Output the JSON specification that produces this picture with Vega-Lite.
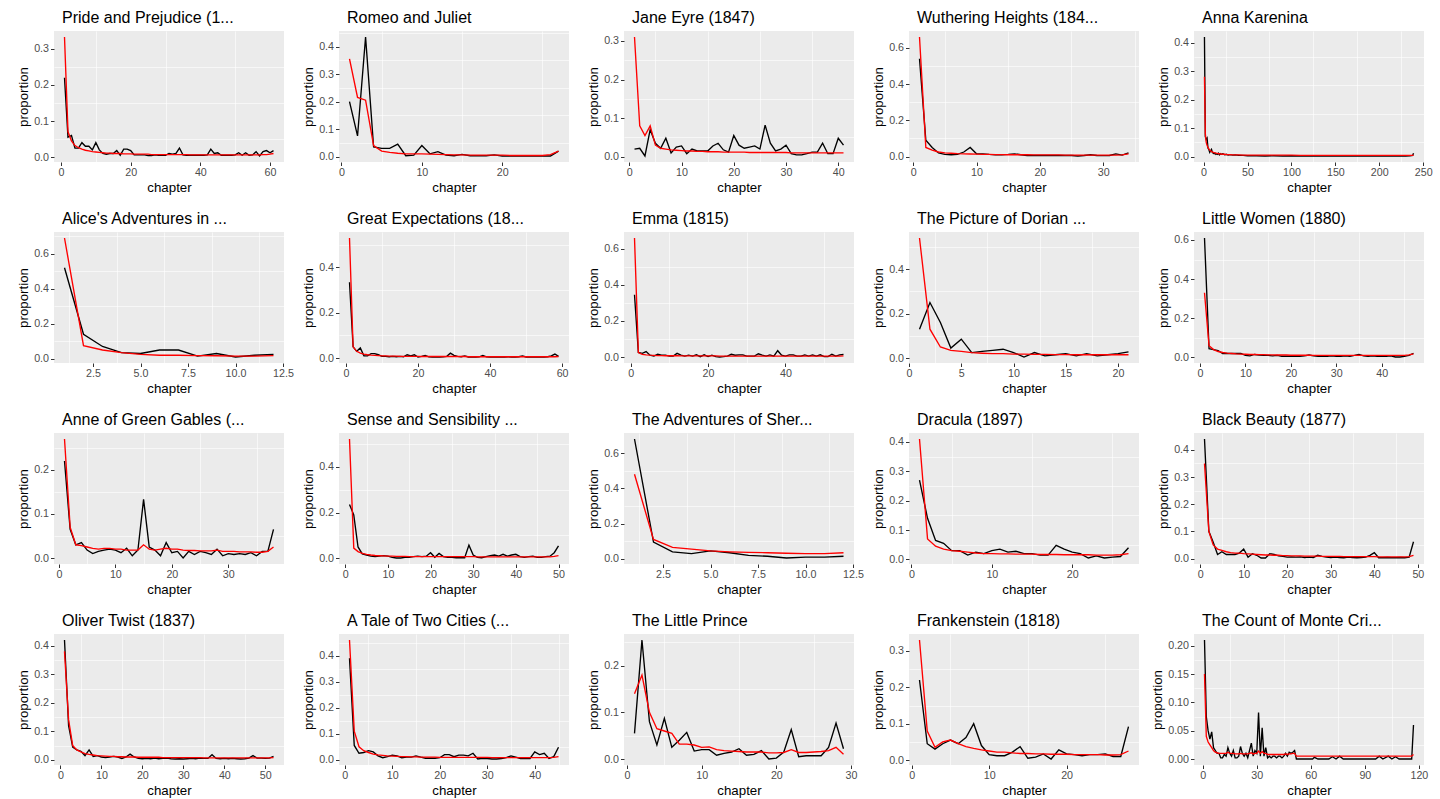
{
"$schema": "https://vega.github.io/schema/vega-lite/v6.json",
"padding": {"left": 16, "top": 10, "right": 2, "bottom": 3},
"data": {"values": [
{"b":1,"c":1,"o":0.22,"f":0.333},{"b":1,"c":2,"o":0.055,"f":0.07},{"b":1,"c":3,"o":0.06,"f":0.045},{"b":1,"c":4,"o":0.025,"f":0.032},{"b":1,"c":5,"o":0.025,"f":0.026},{"b":1,"c":6,"o":0.04,"f":0.022},{"b":1,"c":7,"o":0.03,"f":0.019},{"b":1,"c":8,"o":0.03,"f":0.017},{"b":1,"c":9,"o":0.02,"f":0.015},{"b":1,"c":10,"o":0.04,"f":0.014},{"b":1,"c":11,"o":0.02,"f":0.013},{"b":1,"c":12,"o":0.01,"f":0.012},{"b":1,"c":13,"o":0.008,"f":0.011},{"b":1,"c":14,"o":0.01,"f":0.011},{"b":1,"c":15,"o":0.01,"f":0.01},{"b":1,"c":16,"o":0.018,"f":0.01},{"b":1,"c":17,"o":0.005,"f":0.01},{"b":1,"c":18,"o":0.022,"f":0.009},{"b":1,"c":19,"o":0.022,"f":0.009},{"b":1,"c":20,"o":0.018,"f":0.009},{"b":1,"c":21,"o":0.006,"f":0.008},{"b":1,"c":22,"o":0.006,"f":0.008},{"b":1,"c":23,"o":0.006,"f":0.008},{"b":1,"c":24,"o":0.006,"f":0.008},{"b":1,"c":25,"o":0.004,"f":0.008},{"b":1,"c":26,"o":0.004,"f":0.007},{"b":1,"c":27,"o":0.006,"f":0.007},{"b":1,"c":28,"o":0.005,"f":0.007},{"b":1,"c":29,"o":0.005,"f":0.007},{"b":1,"c":30,"o":0.005,"f":0.007},{"b":1,"c":31,"o":0.01,"f":0.007},{"b":1,"c":32,"o":0.008,"f":0.007},{"b":1,"c":33,"o":0.01,"f":0.007},{"b":1,"c":34,"o":0.025,"f":0.007},{"b":1,"c":35,"o":0.006,"f":0.007},{"b":1,"c":36,"o":0.005,"f":0.007},{"b":1,"c":37,"o":0.005,"f":0.006},{"b":1,"c":38,"o":0.005,"f":0.006},{"b":1,"c":39,"o":0.005,"f":0.006},{"b":1,"c":40,"o":0.005,"f":0.006},{"b":1,"c":41,"o":0.005,"f":0.006},{"b":1,"c":42,"o":0.006,"f":0.006},{"b":1,"c":43,"o":0.022,"f":0.006},{"b":1,"c":44,"o":0.01,"f":0.006},{"b":1,"c":45,"o":0.012,"f":0.006},{"b":1,"c":46,"o":0.005,"f":0.006},{"b":1,"c":47,"o":0.005,"f":0.006},{"b":1,"c":48,"o":0.005,"f":0.006},{"b":1,"c":49,"o":0.005,"f":0.006},{"b":1,"c":50,"o":0.006,"f":0.006},{"b":1,"c":51,"o":0.012,"f":0.006},{"b":1,"c":52,"o":0.005,"f":0.006},{"b":1,"c":53,"o":0.012,"f":0.006},{"b":1,"c":54,"o":0.005,"f":0.006},{"b":1,"c":55,"o":0.006,"f":0.006},{"b":1,"c":56,"o":0.015,"f":0.006},{"b":1,"c":57,"o":0.003,"f":0.006},{"b":1,"c":58,"o":0.015,"f":0.007},{"b":1,"c":59,"o":0.018,"f":0.007},{"b":1,"c":60,"o":0.012,"f":0.008},{"b":1,"c":61,"o":0.018,"f":0.01},
{"b":2,"c":1,"o":0.2,"f":0.355},{"b":2,"c":2,"o":0.075,"f":0.215},{"b":2,"c":3,"o":0.435,"f":0.205},{"b":2,"c":4,"o":0.035,"f":0.04},{"b":2,"c":5,"o":0.03,"f":0.02},{"b":2,"c":6,"o":0.03,"f":0.015},{"b":2,"c":7,"o":0.045,"f":0.012},{"b":2,"c":8,"o":0.003,"f":0.01},{"b":2,"c":9,"o":0.005,"f":0.01},{"b":2,"c":10,"o":0.04,"f":0.01},{"b":2,"c":11,"o":0.01,"f":0.009},{"b":2,"c":12,"o":0.018,"f":0.008},{"b":2,"c":13,"o":0.005,"f":0.007},{"b":2,"c":14,"o":0.003,"f":0.006},{"b":2,"c":15,"o":0.008,"f":0.006},{"b":2,"c":16,"o":0.003,"f":0.005},{"b":2,"c":17,"o":0.003,"f":0.005},{"b":2,"c":18,"o":0.003,"f":0.005},{"b":2,"c":19,"o":0.006,"f":0.005},{"b":2,"c":20,"o":0.002,"f":0.005},{"b":2,"c":21,"o":0.002,"f":0.004},{"b":2,"c":22,"o":0.002,"f":0.004},{"b":2,"c":23,"o":0.002,"f":0.004},{"b":2,"c":24,"o":0.002,"f":0.004},{"b":2,"c":25,"o":0.002,"f":0.004},{"b":2,"c":26,"o":0.002,"f":0.007},{"b":2,"c":27,"o":0.02,"f":0.02},
{"b":3,"c":1,"o":0.02,"f":0.31},{"b":3,"c":2,"o":0.022,"f":0.08},{"b":3,"c":3,"o":0.002,"f":0.055},{"b":3,"c":4,"o":0.07,"f":0.08},{"b":3,"c":5,"o":0.035,"f":0.03},{"b":3,"c":6,"o":0.022,"f":0.022},{"b":3,"c":7,"o":0.048,"f":0.02},{"b":3,"c":8,"o":0.01,"f":0.018},{"b":3,"c":9,"o":0.025,"f":0.017},{"b":3,"c":10,"o":0.028,"f":0.016},{"b":3,"c":11,"o":0.008,"f":0.015},{"b":3,"c":12,"o":0.02,"f":0.015},{"b":3,"c":13,"o":0.015,"f":0.014},{"b":3,"c":14,"o":0.015,"f":0.014},{"b":3,"c":15,"o":0.015,"f":0.013},{"b":3,"c":16,"o":0.028,"f":0.013},{"b":3,"c":17,"o":0.035,"f":0.013},{"b":3,"c":18,"o":0.018,"f":0.012},{"b":3,"c":19,"o":0.012,"f":0.012},{"b":3,"c":20,"o":0.055,"f":0.012},{"b":3,"c":21,"o":0.03,"f":0.012},{"b":3,"c":22,"o":0.022,"f":0.012},{"b":3,"c":23,"o":0.025,"f":0.011},{"b":3,"c":24,"o":0.028,"f":0.011},{"b":3,"c":25,"o":0.02,"f":0.011},{"b":3,"c":26,"o":0.082,"f":0.011},{"b":3,"c":27,"o":0.035,"f":0.011},{"b":3,"c":28,"o":0.015,"f":0.011},{"b":3,"c":29,"o":0.02,"f":0.011},{"b":3,"c":30,"o":0.03,"f":0.011},{"b":3,"c":31,"o":0.008,"f":0.01},{"b":3,"c":32,"o":0.005,"f":0.01},{"b":3,"c":33,"o":0.005,"f":0.01},{"b":3,"c":34,"o":0.008,"f":0.01},{"b":3,"c":35,"o":0.012,"f":0.01},{"b":3,"c":36,"o":0.012,"f":0.01},{"b":3,"c":37,"o":0.035,"f":0.01},{"b":3,"c":38,"o":0.008,"f":0.01},{"b":3,"c":39,"o":0.008,"f":0.01},{"b":3,"c":40,"o":0.048,"f":0.01},{"b":3,"c":41,"o":0.03,"f":0.01},
{"b":4,"c":1,"o":0.54,"f":0.66},{"b":4,"c":2,"o":0.09,"f":0.05},{"b":4,"c":3,"o":0.05,"f":0.035},{"b":4,"c":4,"o":0.02,"f":0.025},{"b":4,"c":5,"o":0.012,"f":0.02},{"b":4,"c":6,"o":0.01,"f":0.018},{"b":4,"c":7,"o":0.012,"f":0.016},{"b":4,"c":8,"o":0.025,"f":0.015},{"b":4,"c":9,"o":0.05,"f":0.014},{"b":4,"c":10,"o":0.015,"f":0.013},{"b":4,"c":11,"o":0.015,"f":0.012},{"b":4,"c":12,"o":0.012,"f":0.012},{"b":4,"c":13,"o":0.01,"f":0.011},{"b":4,"c":14,"o":0.01,"f":0.011},{"b":4,"c":15,"o":0.012,"f":0.01},{"b":4,"c":16,"o":0.015,"f":0.01},{"b":4,"c":17,"o":0.01,"f":0.01},{"b":4,"c":18,"o":0.006,"f":0.01},{"b":4,"c":19,"o":0.006,"f":0.009},{"b":4,"c":20,"o":0.006,"f":0.009},{"b":4,"c":21,"o":0.006,"f":0.009},{"b":4,"c":22,"o":0.006,"f":0.009},{"b":4,"c":23,"o":0.006,"f":0.009},{"b":4,"c":24,"o":0.006,"f":0.008},{"b":4,"c":25,"o":0.006,"f":0.008},{"b":4,"c":26,"o":0.003,"f":0.008},{"b":4,"c":27,"o":0.006,"f":0.008},{"b":4,"c":28,"o":0.01,"f":0.008},{"b":4,"c":29,"o":0.006,"f":0.008},{"b":4,"c":30,"o":0.005,"f":0.008},{"b":4,"c":31,"o":0.006,"f":0.008},{"b":4,"c":32,"o":0.015,"f":0.008},{"b":4,"c":33,"o":0.008,"f":0.009},{"b":4,"c":34,"o":0.02,"f":0.015},
{"b":5,"c":1,"o":0.42,"f":0.28},{"b":5,"c":2,"o":0.07,"f":0.08},{"b":5,"c":3,"o":0.06,"f":0.05},{"b":5,"c":4,"o":0.065,"f":0.04},{"b":5,"c":5,"o":0.03,"f":0.032},{"b":5,"c":6,"o":0.025,"f":0.027},{"b":5,"c":7,"o":0.015,"f":0.023},{"b":5,"c":8,"o":0.02,"f":0.02},{"b":5,"c":9,"o":0.025,"f":0.018},{"b":5,"c":10,"o":0.015,"f":0.016},{"b":5,"c":11,"o":0.012,"f":0.015},{"b":5,"c":12,"o":0.01,"f":0.014},{"b":5,"c":13,"o":0.012,"f":0.013},{"b":5,"c":14,"o":0.008,"f":0.012},{"b":5,"c":15,"o":0.01,"f":0.011},{"b":5,"c":16,"o":0.008,"f":0.011},{"b":5,"c":17,"o":0.012,"f":0.01},{"b":5,"c":18,"o":0.006,"f":0.01},{"b":5,"c":19,"o":0.01,"f":0.009},{"b":5,"c":20,"o":0.008,"f":0.009},{"b":5,"c":22,"o":0.01,"f":0.008},{"b":5,"c":24,"o":0.006,"f":0.008},{"b":5,"c":26,"o":0.008,"f":0.007},{"b":5,"c":28,"o":0.005,"f":0.007},{"b":5,"c":30,"o":0.007,"f":0.007},{"b":5,"c":33,"o":0.005,"f":0.006},{"b":5,"c":36,"o":0.006,"f":0.006},{"b":5,"c":40,"o":0.004,"f":0.006},{"b":5,"c":45,"o":0.004,"f":0.005},{"b":5,"c":50,"o":0.003,"f":0.005},{"b":5,"c":60,"o":0.003,"f":0.005},{"b":5,"c":70,"o":0.002,"f":0.005},{"b":5,"c":80,"o":0.003,"f":0.005},{"b":5,"c":90,"o":0.002,"f":0.005},{"b":5,"c":100,"o":0.003,"f":0.005},{"b":5,"c":110,"o":0.002,"f":0.004},{"b":5,"c":120,"o":0.003,"f":0.004},{"b":5,"c":130,"o":0.002,"f":0.004},{"b":5,"c":140,"o":0.003,"f":0.004},{"b":5,"c":150,"o":0.002,"f":0.004},{"b":5,"c":160,"o":0.003,"f":0.004},{"b":5,"c":170,"o":0.002,"f":0.004},{"b":5,"c":180,"o":0.003,"f":0.004},{"b":5,"c":190,"o":0.002,"f":0.004},{"b":5,"c":200,"o":0.003,"f":0.004},{"b":5,"c":210,"o":0.002,"f":0.004},{"b":5,"c":220,"o":0.003,"f":0.004},{"b":5,"c":230,"o":0.002,"f":0.004},{"b":5,"c":235,"o":0.003,"f":0.004},{"b":5,"c":238,"o":0.004,"f":0.004},{"b":5,"c":239,"o":0.012,"f":0.006},
{"b":6,"c":1,"o":0.52,"f":0.69},{"b":6,"c":2,"o":0.14,"f":0.075},{"b":6,"c":3,"o":0.07,"f":0.05},{"b":6,"c":4,"o":0.035,"f":0.035},{"b":6,"c":5,"o":0.03,"f":0.025},{"b":6,"c":6,"o":0.05,"f":0.02},{"b":6,"c":7,"o":0.05,"f":0.02},{"b":6,"c":8,"o":0.015,"f":0.018},{"b":6,"c":9,"o":0.03,"f":0.017},{"b":6,"c":10,"o":0.01,"f":0.015},{"b":6,"c":11,"o":0.02,"f":0.015},{"b":6,"c":12,"o":0.025,"f":0.018},
{"b":7,"c":1,"o":0.335,"f":0.53},{"b":7,"c":2,"o":0.05,"f":0.05},{"b":7,"c":3,"o":0.03,"f":0.03},{"b":7,"c":4,"o":0.045,"f":0.022},{"b":7,"c":5,"o":0.01,"f":0.018},{"b":7,"c":6,"o":0.01,"f":0.015},{"b":7,"c":7,"o":0.02,"f":0.013},{"b":7,"c":8,"o":0.02,"f":0.012},{"b":7,"c":9,"o":0.015,"f":0.011},{"b":7,"c":10,"o":0.008,"f":0.01},{"b":7,"c":11,"o":0.008,"f":0.01},{"b":7,"c":12,"o":0.006,"f":0.009},{"b":7,"c":13,"o":0.008,"f":0.009},{"b":7,"c":14,"o":0.006,"f":0.009},{"b":7,"c":15,"o":0.008,"f":0.008},{"b":7,"c":16,"o":0.006,"f":0.008},{"b":7,"c":17,"o":0.015,"f":0.008},{"b":7,"c":18,"o":0.01,"f":0.008},{"b":7,"c":19,"o":0.015,"f":0.008},{"b":7,"c":20,"o":0.005,"f":0.008},{"b":7,"c":21,"o":0.008,"f":0.007},{"b":7,"c":22,"o":0.012,"f":0.007},{"b":7,"c":23,"o":0.006,"f":0.007},{"b":7,"c":24,"o":0.005,"f":0.007},{"b":7,"c":25,"o":0.006,"f":0.007},{"b":7,"c":26,"o":0.005,"f":0.007},{"b":7,"c":27,"o":0.006,"f":0.007},{"b":7,"c":28,"o":0.008,"f":0.007},{"b":7,"c":29,"o":0.022,"f":0.007},{"b":7,"c":30,"o":0.012,"f":0.007},{"b":7,"c":31,"o":0.008,"f":0.007},{"b":7,"c":32,"o":0.006,"f":0.007},{"b":7,"c":33,"o":0.01,"f":0.007},{"b":7,"c":34,"o":0.005,"f":0.006},{"b":7,"c":35,"o":0.005,"f":0.006},{"b":7,"c":36,"o":0.005,"f":0.006},{"b":7,"c":37,"o":0.006,"f":0.006},{"b":7,"c":38,"o":0.012,"f":0.006},{"b":7,"c":39,"o":0.006,"f":0.006},{"b":7,"c":40,"o":0.005,"f":0.006},{"b":7,"c":41,"o":0.005,"f":0.006},{"b":7,"c":42,"o":0.006,"f":0.006},{"b":7,"c":43,"o":0.005,"f":0.006},{"b":7,"c":44,"o":0.005,"f":0.006},{"b":7,"c":45,"o":0.006,"f":0.006},{"b":7,"c":46,"o":0.005,"f":0.006},{"b":7,"c":47,"o":0.005,"f":0.006},{"b":7,"c":48,"o":0.006,"f":0.006},{"b":7,"c":49,"o":0.01,"f":0.006},{"b":7,"c":50,"o":0.005,"f":0.006},{"b":7,"c":51,"o":0.006,"f":0.006},{"b":7,"c":52,"o":0.005,"f":0.006},{"b":7,"c":53,"o":0.005,"f":0.006},{"b":7,"c":54,"o":0.006,"f":0.006},{"b":7,"c":55,"o":0.005,"f":0.006},{"b":7,"c":56,"o":0.006,"f":0.006},{"b":7,"c":57,"o":0.01,"f":0.006},{"b":7,"c":58,"o":0.018,"f":0.006},{"b":7,"c":59,"o":0.008,"f":0.007},
{"b":8,"c":1,"o":0.345,"f":0.66},{"b":8,"c":2,"o":0.025,"f":0.025},{"b":8,"c":3,"o":0.02,"f":0.015},{"b":8,"c":4,"o":0.03,"f":0.012},{"b":8,"c":5,"o":0.01,"f":0.01},{"b":8,"c":6,"o":0.005,"f":0.009},{"b":8,"c":7,"o":0.015,"f":0.008},{"b":8,"c":8,"o":0.01,"f":0.008},{"b":8,"c":9,"o":0.01,"f":0.007},{"b":8,"c":10,"o":0.005,"f":0.007},{"b":8,"c":11,"o":0.005,"f":0.007},{"b":8,"c":12,"o":0.02,"f":0.007},{"b":8,"c":13,"o":0.01,"f":0.006},{"b":8,"c":14,"o":0.005,"f":0.006},{"b":8,"c":15,"o":0.01,"f":0.006},{"b":8,"c":16,"o":0.005,"f":0.006},{"b":8,"c":17,"o":0.012,"f":0.006},{"b":8,"c":18,"o":0.002,"f":0.006},{"b":8,"c":19,"o":0.012,"f":0.006},{"b":8,"c":20,"o":0.002,"f":0.006},{"b":8,"c":21,"o":0.01,"f":0.006},{"b":8,"c":22,"o":0.002,"f":0.006},{"b":8,"c":23,"o":0.0,"f":0.005},{"b":8,"c":24,"o":0.002,"f":0.005},{"b":8,"c":25,"o":0.005,"f":0.005},{"b":8,"c":26,"o":0.015,"f":0.005},{"b":8,"c":27,"o":0.01,"f":0.005},{"b":8,"c":28,"o":0.012,"f":0.005},{"b":8,"c":29,"o":0.012,"f":0.005},{"b":8,"c":30,"o":0.005,"f":0.005},{"b":8,"c":31,"o":0.005,"f":0.005},{"b":8,"c":32,"o":0.005,"f":0.005},{"b":8,"c":33,"o":0.018,"f":0.005},{"b":8,"c":34,"o":0.01,"f":0.005},{"b":8,"c":35,"o":0.005,"f":0.005},{"b":8,"c":36,"o":0.012,"f":0.005},{"b":8,"c":37,"o":0.005,"f":0.005},{"b":8,"c":38,"o":0.035,"f":0.005},{"b":8,"c":39,"o":0.01,"f":0.005},{"b":8,"c":40,"o":0.005,"f":0.005},{"b":8,"c":41,"o":0.012,"f":0.005},{"b":8,"c":42,"o":0.012,"f":0.005},{"b":8,"c":43,"o":0.005,"f":0.005},{"b":8,"c":44,"o":0.005,"f":0.005},{"b":8,"c":45,"o":0.012,"f":0.005},{"b":8,"c":46,"o":0.005,"f":0.005},{"b":8,"c":47,"o":0.012,"f":0.005},{"b":8,"c":48,"o":0.005,"f":0.005},{"b":8,"c":49,"o":0.012,"f":0.005},{"b":8,"c":50,"o":0.002,"f":0.005},{"b":8,"c":51,"o":0.002,"f":0.005},{"b":8,"c":52,"o":0.015,"f":0.005},{"b":8,"c":53,"o":0.005,"f":0.005},{"b":8,"c":54,"o":0.012,"f":0.005},{"b":8,"c":55,"o":0.015,"f":0.006},
{"b":9,"c":1,"o":0.13,"f":0.54},{"b":9,"c":2,"o":0.25,"f":0.13},{"b":9,"c":3,"o":0.16,"f":0.05},{"b":9,"c":4,"o":0.045,"f":0.035},{"b":9,"c":5,"o":0.085,"f":0.03},{"b":9,"c":6,"o":0.025,"f":0.025},{"b":9,"c":7,"o":0.03,"f":0.022},{"b":9,"c":8,"o":0.035,"f":0.02},{"b":9,"c":9,"o":0.04,"f":0.02},{"b":9,"c":10,"o":0.025,"f":0.018},{"b":9,"c":11,"o":0.005,"f":0.018},{"b":9,"c":12,"o":0.025,"f":0.017},{"b":9,"c":13,"o":0.01,"f":0.017},{"b":9,"c":14,"o":0.015,"f":0.016},{"b":9,"c":15,"o":0.02,"f":0.016},{"b":9,"c":16,"o":0.01,"f":0.015},{"b":9,"c":17,"o":0.02,"f":0.015},{"b":9,"c":18,"o":0.01,"f":0.015},{"b":9,"c":19,"o":0.015,"f":0.015},{"b":9,"c":20,"o":0.02,"f":0.015},{"b":9,"c":21,"o":0.028,"f":0.015},
{"b":10,"c":1,"o":0.61,"f":0.33},{"b":10,"c":2,"o":0.045,"f":0.06},{"b":10,"c":3,"o":0.04,"f":0.04},{"b":10,"c":4,"o":0.035,"f":0.03},{"b":10,"c":5,"o":0.02,"f":0.025},{"b":10,"c":6,"o":0.02,"f":0.022},{"b":10,"c":7,"o":0.02,"f":0.02},{"b":10,"c":8,"o":0.02,"f":0.018},{"b":10,"c":9,"o":0.02,"f":0.017},{"b":10,"c":10,"o":0.01,"f":0.016},{"b":10,"c":11,"o":0.008,"f":0.015},{"b":10,"c":12,"o":0.015,"f":0.015},{"b":10,"c":13,"o":0.012,"f":0.014},{"b":10,"c":14,"o":0.01,"f":0.014},{"b":10,"c":15,"o":0.01,"f":0.013},{"b":10,"c":16,"o":0.008,"f":0.013},{"b":10,"c":17,"o":0.01,"f":0.012},{"b":10,"c":18,"o":0.006,"f":0.012},{"b":10,"c":19,"o":0.006,"f":0.012},{"b":10,"c":20,"o":0.005,"f":0.011},{"b":10,"c":21,"o":0.006,"f":0.011},{"b":10,"c":22,"o":0.005,"f":0.011},{"b":10,"c":23,"o":0.008,"f":0.011},{"b":10,"c":24,"o":0.012,"f":0.011},{"b":10,"c":25,"o":0.008,"f":0.01},{"b":10,"c":26,"o":0.006,"f":0.01},{"b":10,"c":27,"o":0.005,"f":0.01},{"b":10,"c":28,"o":0.006,"f":0.01},{"b":10,"c":29,"o":0.008,"f":0.01},{"b":10,"c":30,"o":0.005,"f":0.01},{"b":10,"c":31,"o":0.006,"f":0.01},{"b":10,"c":32,"o":0.008,"f":0.01},{"b":10,"c":33,"o":0.006,"f":0.01},{"b":10,"c":34,"o":0.01,"f":0.01},{"b":10,"c":35,"o":0.015,"f":0.01},{"b":10,"c":36,"o":0.008,"f":0.01},{"b":10,"c":37,"o":0.006,"f":0.01},{"b":10,"c":38,"o":0.008,"f":0.01},{"b":10,"c":39,"o":0.006,"f":0.01},{"b":10,"c":40,"o":0.005,"f":0.01},{"b":10,"c":41,"o":0.006,"f":0.01},{"b":10,"c":42,"o":0.008,"f":0.01},{"b":10,"c":43,"o":0.002,"f":0.01},{"b":10,"c":44,"o":0.002,"f":0.01},{"b":10,"c":45,"o":0.005,"f":0.01},{"b":10,"c":46,"o":0.01,"f":0.013},{"b":10,"c":47,"o":0.02,"f":0.018},
{"b":11,"c":1,"o":0.22,"f":0.27},{"b":11,"c":2,"o":0.065,"f":0.07},{"b":11,"c":3,"o":0.03,"f":0.03},{"b":11,"c":4,"o":0.035,"f":0.028},{"b":11,"c":5,"o":0.018,"f":0.025},{"b":11,"c":6,"o":0.01,"f":0.022},{"b":11,"c":7,"o":0.015,"f":0.02},{"b":11,"c":8,"o":0.018,"f":0.022},{"b":11,"c":9,"o":0.02,"f":0.022},{"b":11,"c":10,"o":0.018,"f":0.02},{"b":11,"c":11,"o":0.012,"f":0.02},{"b":11,"c":12,"o":0.022,"f":0.018},{"b":11,"c":13,"o":0.005,"f":0.018},{"b":11,"c":14,"o":0.018,"f":0.018},{"b":11,"c":15,"o":0.133,"f":0.03},{"b":11,"c":16,"o":0.025,"f":0.02},{"b":11,"c":17,"o":0.018,"f":0.018},{"b":11,"c":18,"o":0.005,"f":0.02},{"b":11,"c":19,"o":0.035,"f":0.022},{"b":11,"c":20,"o":0.012,"f":0.02},{"b":11,"c":21,"o":0.015,"f":0.02},{"b":11,"c":22,"o":0.0,"f":0.018},{"b":11,"c":23,"o":0.015,"f":0.017},{"b":11,"c":24,"o":0.008,"f":0.017},{"b":11,"c":25,"o":0.015,"f":0.016},{"b":11,"c":26,"o":0.012,"f":0.016},{"b":11,"c":27,"o":0.008,"f":0.016},{"b":11,"c":28,"o":0.02,"f":0.018},{"b":11,"c":29,"o":0.005,"f":0.015},{"b":11,"c":30,"o":0.01,"f":0.015},{"b":11,"c":31,"o":0.008,"f":0.015},{"b":11,"c":32,"o":0.01,"f":0.014},{"b":11,"c":33,"o":0.008,"f":0.014},{"b":11,"c":34,"o":0.012,"f":0.014},{"b":11,"c":35,"o":0.005,"f":0.013},{"b":11,"c":36,"o":0.015,"f":0.013},{"b":11,"c":37,"o":0.015,"f":0.015},{"b":11,"c":38,"o":0.065,"f":0.025},
{"b":12,"c":1,"o":0.235,"f":0.52},{"b":12,"c":2,"o":0.19,"f":0.045},{"b":12,"c":3,"o":0.05,"f":0.03},{"b":12,"c":4,"o":0.02,"f":0.022},{"b":12,"c":5,"o":0.015,"f":0.018},{"b":12,"c":6,"o":0.01,"f":0.015},{"b":12,"c":7,"o":0.008,"f":0.013},{"b":12,"c":8,"o":0.01,"f":0.012},{"b":12,"c":9,"o":0.012,"f":0.011},{"b":12,"c":10,"o":0.01,"f":0.01},{"b":12,"c":11,"o":0.005,"f":0.01},{"b":12,"c":12,"o":0.002,"f":0.009},{"b":12,"c":13,"o":0.002,"f":0.009},{"b":12,"c":14,"o":0.005,"f":0.009},{"b":12,"c":15,"o":0.005,"f":0.008},{"b":12,"c":16,"o":0.008,"f":0.008},{"b":12,"c":17,"o":0.01,"f":0.008},{"b":12,"c":18,"o":0.008,"f":0.008},{"b":12,"c":19,"o":0.01,"f":0.008},{"b":12,"c":20,"o":0.025,"f":0.008},{"b":12,"c":21,"o":0.005,"f":0.008},{"b":12,"c":22,"o":0.022,"f":0.008},{"b":12,"c":23,"o":0.008,"f":0.008},{"b":12,"c":24,"o":0.005,"f":0.008},{"b":12,"c":25,"o":0.005,"f":0.008},{"b":12,"c":26,"o":0.003,"f":0.008},{"b":12,"c":27,"o":0.003,"f":0.008},{"b":12,"c":28,"o":0.003,"f":0.008},{"b":12,"c":29,"o":0.058,"f":0.008},{"b":12,"c":30,"o":0.015,"f":0.008},{"b":12,"c":31,"o":0.005,"f":0.007},{"b":12,"c":32,"o":0.003,"f":0.007},{"b":12,"c":33,"o":0.008,"f":0.007},{"b":12,"c":34,"o":0.012,"f":0.007},{"b":12,"c":35,"o":0.015,"f":0.007},{"b":12,"c":36,"o":0.01,"f":0.007},{"b":12,"c":37,"o":0.018,"f":0.007},{"b":12,"c":38,"o":0.01,"f":0.007},{"b":12,"c":39,"o":0.015,"f":0.007},{"b":12,"c":40,"o":0.018,"f":0.007},{"b":12,"c":41,"o":0.008,"f":0.007},{"b":12,"c":42,"o":0.005,"f":0.007},{"b":12,"c":43,"o":0.008,"f":0.007},{"b":12,"c":44,"o":0.01,"f":0.007},{"b":12,"c":45,"o":0.005,"f":0.007},{"b":12,"c":46,"o":0.005,"f":0.007},{"b":12,"c":47,"o":0.008,"f":0.007},{"b":12,"c":48,"o":0.01,"f":0.007},{"b":12,"c":49,"o":0.025,"f":0.009},{"b":12,"c":50,"o":0.055,"f":0.012},
{"b":13,"c":1,"o":0.68,"f":0.48},{"b":13,"c":2,"o":0.095,"f":0.11},{"b":13,"c":3,"o":0.04,"f":0.065},{"b":13,"c":4,"o":0.03,"f":0.055},{"b":13,"c":5,"o":0.045,"f":0.045},{"b":13,"c":6,"o":0.035,"f":0.04},{"b":13,"c":7,"o":0.02,"f":0.037},{"b":13,"c":8,"o":0.015,"f":0.035},{"b":13,"c":9,"o":0.005,"f":0.032},{"b":13,"c":10,"o":0.01,"f":0.03},{"b":13,"c":11,"o":0.01,"f":0.03},{"b":13,"c":12,"o":0.015,"f":0.035},
{"b":14,"c":1,"o":0.27,"f":0.41},{"b":14,"c":2,"o":0.14,"f":0.07},{"b":14,"c":3,"o":0.065,"f":0.045},{"b":14,"c":4,"o":0.055,"f":0.035},{"b":14,"c":5,"o":0.03,"f":0.03},{"b":14,"c":6,"o":0.03,"f":0.028},{"b":14,"c":7,"o":0.015,"f":0.025},{"b":14,"c":8,"o":0.025,"f":0.022},{"b":14,"c":9,"o":0.02,"f":0.02},{"b":14,"c":10,"o":0.03,"f":0.02},{"b":14,"c":11,"o":0.035,"f":0.019},{"b":14,"c":12,"o":0.025,"f":0.019},{"b":14,"c":13,"o":0.028,"f":0.018},{"b":14,"c":14,"o":0.02,"f":0.018},{"b":14,"c":15,"o":0.02,"f":0.018},{"b":14,"c":16,"o":0.015,"f":0.017},{"b":14,"c":17,"o":0.015,"f":0.017},{"b":14,"c":18,"o":0.048,"f":0.017},{"b":14,"c":19,"o":0.035,"f":0.016},{"b":14,"c":20,"o":0.025,"f":0.016},{"b":14,"c":21,"o":0.02,"f":0.016},{"b":14,"c":22,"o":0.005,"f":0.016},{"b":14,"c":23,"o":0.012,"f":0.015},{"b":14,"c":24,"o":0.005,"f":0.015},{"b":14,"c":25,"o":0.008,"f":0.015},{"b":14,"c":26,"o":0.01,"f":0.016},{"b":14,"c":27,"o":0.04,"f":0.02},
{"b":15,"c":1,"o":0.44,"f":0.35},{"b":15,"c":2,"o":0.1,"f":0.1},{"b":15,"c":3,"o":0.06,"f":0.05},{"b":15,"c":4,"o":0.015,"f":0.035},{"b":15,"c":5,"o":0.025,"f":0.03},{"b":15,"c":6,"o":0.015,"f":0.025},{"b":15,"c":7,"o":0.015,"f":0.022},{"b":15,"c":8,"o":0.015,"f":0.02},{"b":15,"c":9,"o":0.02,"f":0.02},{"b":15,"c":10,"o":0.035,"f":0.018},{"b":15,"c":11,"o":0.005,"f":0.017},{"b":15,"c":12,"o":0.018,"f":0.016},{"b":15,"c":13,"o":0.012,"f":0.015},{"b":15,"c":14,"o":0.002,"f":0.014},{"b":15,"c":15,"o":0.002,"f":0.013},{"b":15,"c":16,"o":0.018,"f":0.013},{"b":15,"c":17,"o":0.015,"f":0.012},{"b":15,"c":18,"o":0.01,"f":0.012},{"b":15,"c":19,"o":0.008,"f":0.011},{"b":15,"c":20,"o":0.005,"f":0.011},{"b":15,"c":21,"o":0.006,"f":0.01},{"b":15,"c":22,"o":0.005,"f":0.01},{"b":15,"c":23,"o":0.006,"f":0.01},{"b":15,"c":24,"o":0.004,"f":0.009},{"b":15,"c":25,"o":0.005,"f":0.009},{"b":15,"c":26,"o":0.004,"f":0.009},{"b":15,"c":27,"o":0.012,"f":0.009},{"b":15,"c":28,"o":0.008,"f":0.008},{"b":15,"c":29,"o":0.005,"f":0.008},{"b":15,"c":30,"o":0.004,"f":0.008},{"b":15,"c":31,"o":0.005,"f":0.008},{"b":15,"c":32,"o":0.004,"f":0.008},{"b":15,"c":33,"o":0.003,"f":0.007},{"b":15,"c":34,"o":0.005,"f":0.007},{"b":15,"c":35,"o":0.004,"f":0.007},{"b":15,"c":36,"o":0.003,"f":0.007},{"b":15,"c":37,"o":0.004,"f":0.007},{"b":15,"c":38,"o":0.005,"f":0.007},{"b":15,"c":39,"o":0.012,"f":0.007},{"b":15,"c":40,"o":0.022,"f":0.007},{"b":15,"c":41,"o":0.003,"f":0.006},{"b":15,"c":42,"o":0.003,"f":0.006},{"b":15,"c":43,"o":0.004,"f":0.006},{"b":15,"c":44,"o":0.003,"f":0.006},{"b":15,"c":45,"o":0.003,"f":0.006},{"b":15,"c":46,"o":0.004,"f":0.006},{"b":15,"c":47,"o":0.003,"f":0.006},{"b":15,"c":48,"o":0.005,"f":0.007},{"b":15,"c":49,"o":0.062,"f":0.012},
{"b":16,"c":1,"o":0.42,"f":0.38},{"b":16,"c":2,"o":0.12,"f":0.14},{"b":16,"c":3,"o":0.045,"f":0.05},{"b":16,"c":4,"o":0.035,"f":0.035},{"b":16,"c":5,"o":0.03,"f":0.028},{"b":16,"c":6,"o":0.015,"f":0.022},{"b":16,"c":7,"o":0.035,"f":0.019},{"b":16,"c":8,"o":0.012,"f":0.017},{"b":16,"c":9,"o":0.015,"f":0.015},{"b":16,"c":10,"o":0.01,"f":0.014},{"b":16,"c":11,"o":0.008,"f":0.013},{"b":16,"c":12,"o":0.01,"f":0.012},{"b":16,"c":13,"o":0.012,"f":0.012},{"b":16,"c":14,"o":0.01,"f":0.011},{"b":16,"c":15,"o":0.005,"f":0.011},{"b":16,"c":16,"o":0.01,"f":0.01},{"b":16,"c":17,"o":0.02,"f":0.01},{"b":16,"c":18,"o":0.01,"f":0.01},{"b":16,"c":19,"o":0.005,"f":0.009},{"b":16,"c":20,"o":0.004,"f":0.009},{"b":16,"c":21,"o":0.005,"f":0.009},{"b":16,"c":22,"o":0.004,"f":0.009},{"b":16,"c":23,"o":0.006,"f":0.009},{"b":16,"c":24,"o":0.004,"f":0.009},{"b":16,"c":25,"o":0.005,"f":0.008},{"b":16,"c":26,"o":0.006,"f":0.008},{"b":16,"c":27,"o":0.004,"f":0.008},{"b":16,"c":28,"o":0.003,"f":0.008},{"b":16,"c":29,"o":0.004,"f":0.008},{"b":16,"c":30,"o":0.003,"f":0.008},{"b":16,"c":31,"o":0.004,"f":0.008},{"b":16,"c":32,"o":0.005,"f":0.008},{"b":16,"c":33,"o":0.004,"f":0.008},{"b":16,"c":34,"o":0.006,"f":0.008},{"b":16,"c":35,"o":0.005,"f":0.007},{"b":16,"c":36,"o":0.005,"f":0.007},{"b":16,"c":37,"o":0.018,"f":0.007},{"b":16,"c":38,"o":0.005,"f":0.007},{"b":16,"c":39,"o":0.004,"f":0.007},{"b":16,"c":40,"o":0.005,"f":0.007},{"b":16,"c":41,"o":0.004,"f":0.007},{"b":16,"c":42,"o":0.005,"f":0.007},{"b":16,"c":43,"o":0.004,"f":0.007},{"b":16,"c":44,"o":0.003,"f":0.007},{"b":16,"c":45,"o":0.004,"f":0.007},{"b":16,"c":46,"o":0.006,"f":0.007},{"b":16,"c":47,"o":0.015,"f":0.007},{"b":16,"c":48,"o":0.006,"f":0.007},{"b":16,"c":49,"o":0.006,"f":0.007},{"b":16,"c":50,"o":0.005,"f":0.007},{"b":16,"c":51,"o":0.006,"f":0.007},{"b":16,"c":52,"o":0.012,"f":0.008},
{"b":17,"c":1,"o":0.39,"f":0.46},{"b":17,"c":2,"o":0.055,"f":0.11},{"b":17,"c":3,"o":0.025,"f":0.05},{"b":17,"c":4,"o":0.028,"f":0.035},{"b":17,"c":5,"o":0.035,"f":0.028},{"b":17,"c":6,"o":0.03,"f":0.022},{"b":17,"c":7,"o":0.015,"f":0.019},{"b":17,"c":8,"o":0.008,"f":0.017},{"b":17,"c":9,"o":0.012,"f":0.015},{"b":17,"c":10,"o":0.018,"f":0.014},{"b":17,"c":11,"o":0.015,"f":0.013},{"b":17,"c":12,"o":0.008,"f":0.012},{"b":17,"c":13,"o":0.01,"f":0.012},{"b":17,"c":14,"o":0.01,"f":0.011},{"b":17,"c":15,"o":0.015,"f":0.011},{"b":17,"c":16,"o":0.01,"f":0.01},{"b":17,"c":17,"o":0.006,"f":0.01},{"b":17,"c":18,"o":0.006,"f":0.01},{"b":17,"c":19,"o":0.006,"f":0.01},{"b":17,"c":20,"o":0.008,"f":0.009},{"b":17,"c":21,"o":0.02,"f":0.009},{"b":17,"c":22,"o":0.02,"f":0.009},{"b":17,"c":23,"o":0.012,"f":0.009},{"b":17,"c":24,"o":0.018,"f":0.009},{"b":17,"c":25,"o":0.018,"f":0.009},{"b":17,"c":26,"o":0.015,"f":0.009},{"b":17,"c":27,"o":0.025,"f":0.009},{"b":17,"c":28,"o":0.003,"f":0.009},{"b":17,"c":29,"o":0.006,"f":0.009},{"b":17,"c":30,"o":0.005,"f":0.009},{"b":17,"c":31,"o":0.003,"f":0.008},{"b":17,"c":32,"o":0.003,"f":0.008},{"b":17,"c":33,"o":0.005,"f":0.008},{"b":17,"c":34,"o":0.008,"f":0.008},{"b":17,"c":35,"o":0.015,"f":0.008},{"b":17,"c":36,"o":0.01,"f":0.008},{"b":17,"c":37,"o":0.005,"f":0.008},{"b":17,"c":38,"o":0.005,"f":0.008},{"b":17,"c":39,"o":0.005,"f":0.008},{"b":17,"c":40,"o":0.03,"f":0.008},{"b":17,"c":41,"o":0.02,"f":0.008},{"b":17,"c":42,"o":0.025,"f":0.008},{"b":17,"c":43,"o":0.005,"f":0.008},{"b":17,"c":44,"o":0.012,"f":0.009},{"b":17,"c":45,"o":0.048,"f":0.012},
{"b":18,"c":1,"o":0.055,"f":0.14},{"b":18,"c":2,"o":0.255,"f":0.18},{"b":18,"c":3,"o":0.08,"f":0.1},{"b":18,"c":4,"o":0.03,"f":0.065},{"b":18,"c":5,"o":0.087,"f":0.06},{"b":18,"c":6,"o":0.025,"f":0.055},{"b":18,"c":7,"o":0.04,"f":0.032},{"b":18,"c":8,"o":0.057,"f":0.032},{"b":18,"c":9,"o":0.017,"f":0.03},{"b":18,"c":10,"o":0.02,"f":0.025},{"b":18,"c":11,"o":0.02,"f":0.026},{"b":18,"c":12,"o":0.008,"f":0.02},{"b":18,"c":13,"o":0.012,"f":0.018},{"b":18,"c":14,"o":0.015,"f":0.017},{"b":18,"c":15,"o":0.022,"f":0.016},{"b":18,"c":16,"o":0.008,"f":0.015},{"b":18,"c":17,"o":0.01,"f":0.015},{"b":18,"c":18,"o":0.018,"f":0.015},{"b":18,"c":19,"o":0.0,"f":0.013},{"b":18,"c":20,"o":0.002,"f":0.013},{"b":18,"c":21,"o":0.015,"f":0.014},{"b":18,"c":22,"o":0.063,"f":0.02},{"b":18,"c":23,"o":0.005,"f":0.014},{"b":18,"c":24,"o":0.007,"f":0.014},{"b":18,"c":25,"o":0.007,"f":0.015},{"b":18,"c":26,"o":0.007,"f":0.016},{"b":18,"c":27,"o":0.025,"f":0.018},{"b":18,"c":28,"o":0.077,"f":0.025},{"b":18,"c":29,"o":0.022,"f":0.01},
{"b":19,"c":1,"o":0.22,"f":0.33},{"b":19,"c":2,"o":0.045,"f":0.08},{"b":19,"c":3,"o":0.03,"f":0.035},{"b":19,"c":4,"o":0.045,"f":0.05},{"b":19,"c":5,"o":0.055,"f":0.055},{"b":19,"c":6,"o":0.045,"f":0.045},{"b":19,"c":7,"o":0.062,"f":0.037},{"b":19,"c":8,"o":0.1,"f":0.032},{"b":19,"c":9,"o":0.04,"f":0.028},{"b":19,"c":10,"o":0.015,"f":0.025},{"b":19,"c":11,"o":0.012,"f":0.022},{"b":19,"c":12,"o":0.012,"f":0.022},{"b":19,"c":13,"o":0.022,"f":0.02},{"b":19,"c":14,"o":0.037,"f":0.018},{"b":19,"c":15,"o":0.005,"f":0.018},{"b":19,"c":16,"o":0.008,"f":0.017},{"b":19,"c":17,"o":0.017,"f":0.017},{"b":19,"c":18,"o":0.003,"f":0.016},{"b":19,"c":19,"o":0.028,"f":0.016},{"b":19,"c":20,"o":0.017,"f":0.016},{"b":19,"c":21,"o":0.015,"f":0.015},{"b":19,"c":22,"o":0.012,"f":0.015},{"b":19,"c":23,"o":0.015,"f":0.015},{"b":19,"c":24,"o":0.015,"f":0.015},{"b":19,"c":25,"o":0.017,"f":0.014},{"b":19,"c":26,"o":0.01,"f":0.014},{"b":19,"c":27,"o":0.01,"f":0.015},{"b":19,"c":28,"o":0.092,"f":0.025},
{"b":20,"c":1,"o":0.21,"f":0.15},{"b":20,"c":2,"o":0.075,"f":0.04},{"b":20,"c":3,"o":0.05,"f":0.03},{"b":20,"c":4,"o":0.035,"f":0.025},{"b":20,"c":5,"o":0.048,"f":0.02},{"b":20,"c":6,"o":0.02,"f":0.015},{"b":20,"c":7,"o":0.015,"f":0.012},{"b":20,"c":8,"o":0.01,"f":0.011},{"b":20,"c":9,"o":0.01,"f":0.01},{"b":20,"c":10,"o":0.002,"f":0.01},{"b":20,"c":11,"o":0.002,"f":0.01},{"b":20,"c":12,"o":0.008,"f":0.01},{"b":20,"c":13,"o":0.005,"f":0.01},{"b":20,"c":14,"o":0.02,"f":0.012},{"b":20,"c":15,"o":0.01,"f":0.01},{"b":20,"c":16,"o":0.005,"f":0.01},{"b":20,"c":17,"o":0.015,"f":0.01},{"b":20,"c":18,"o":0.002,"f":0.009},{"b":20,"c":19,"o":0.002,"f":0.009},{"b":20,"c":20,"o":0.005,"f":0.009},{"b":20,"c":21,"o":0.022,"f":0.01},{"b":20,"c":22,"o":0.01,"f":0.009},{"b":20,"c":23,"o":0.005,"f":0.009},{"b":20,"c":24,"o":0.01,"f":0.009},{"b":20,"c":25,"o":0.002,"f":0.009},{"b":20,"c":26,"o":0.015,"f":0.01},{"b":20,"c":27,"o":0.028,"f":0.011},{"b":20,"c":28,"o":0.005,"f":0.009},{"b":20,"c":29,"o":0.015,"f":0.01},{"b":20,"c":30,"o":0.01,"f":0.01},{"b":20,"c":31,"o":0.082,"f":0.014},{"b":20,"c":32,"o":0.005,"f":0.01},{"b":20,"c":33,"o":0.055,"f":0.013},{"b":20,"c":34,"o":0.005,"f":0.01},{"b":20,"c":35,"o":0.02,"f":0.01},{"b":20,"c":36,"o":0.002,"f":0.008},{"b":20,"c":37,"o":0.005,"f":0.008},{"b":20,"c":38,"o":0.002,"f":0.008},{"b":20,"c":39,"o":0.005,"f":0.008},{"b":20,"c":40,"o":0.005,"f":0.008},{"b":20,"c":41,"o":0.002,"f":0.008},{"b":20,"c":42,"o":0.005,"f":0.008},{"b":20,"c":43,"o":0.005,"f":0.008},{"b":20,"c":44,"o":0.002,"f":0.008},{"b":20,"c":45,"o":0.005,"f":0.008},{"b":20,"c":46,"o":0.01,"f":0.009},{"b":20,"c":47,"o":0.005,"f":0.008},{"b":20,"c":48,"o":0.012,"f":0.009},{"b":20,"c":49,"o":0.01,"f":0.009},{"b":20,"c":50,"o":0.012,"f":0.01},{"b":20,"c":51,"o":0.015,"f":0.01},{"b":20,"c":52,"o":0.0,"f":0.005},{"b":20,"c":55,"o":0.0,"f":0.005},{"b":20,"c":58,"o":0.0,"f":0.005},{"b":20,"c":61,"o":0.0,"f":0.005},{"b":20,"c":62,"o":0.003,"f":0.005},{"b":20,"c":64,"o":0.0,"f":0.005},{"b":20,"c":67,"o":0.0,"f":0.005},{"b":20,"c":70,"o":0.0,"f":0.005},{"b":20,"c":72,"o":0.004,"f":0.005},{"b":20,"c":74,"o":0.0,"f":0.005},{"b":20,"c":76,"o":0.005,"f":0.005},{"b":20,"c":78,"o":0.0,"f":0.005},{"b":20,"c":81,"o":0.0,"f":0.005},{"b":20,"c":84,"o":0.0,"f":0.005},{"b":20,"c":87,"o":0.0,"f":0.005},{"b":20,"c":90,"o":0.0,"f":0.005},{"b":20,"c":93,"o":0.0,"f":0.005},{"b":20,"c":96,"o":0.0,"f":0.005},{"b":20,"c":98,"o":0.005,"f":0.005},{"b":20,"c":100,"o":0.0,"f":0.005},{"b":20,"c":103,"o":0.005,"f":0.005},{"b":20,"c":105,"o":0.0,"f":0.005},{"b":20,"c":107,"o":0.004,"f":0.005},{"b":20,"c":109,"o":0.0,"f":0.005},{"b":20,"c":112,"o":0.0,"f":0.005},{"b":20,"c":115,"o":0.0,"f":0.005},{"b":20,"c":116,"o":0.0,"f":0.005},{"b":20,"c":117,"o":0.06,"f":0.008}
]},
"columns": 5,
"bounds": "flush",
"spacing": {"row": 70, "column": 55},
"concat": [
{"title":"Pride and Prejudice (1...","transform":[{"filter":"datum.b==1"}],"layer":[{"mark":{"type":"line","color":"black"},"encoding":{"x":{"field":"c","type":"quantitative","scale":{"padding":10.5,"nice":false,"zero":false},"axis":{"orient":"top","values":[10,30,50],"title":null}},"y":{"field":"o","type":"quantitative","scale":{"padding":6,"nice":false,"zero":false},"axis":{"orient":"right","values":[0.05,0.15,0.25,0.35],"title":null}}}},{"mark":{"type":"line","color":"red"},"encoding":{"x":{"field":"c","type":"quantitative","axis":{"orient":"bottom","values":[0,20,40,60],"format":"d","title":"chapter"}},"y":{"field":"f","type":"quantitative","axis":{"orient":"left","values":[0,0.1,0.2,0.3],"format":".1f","title":"proportion"}}}}],"resolve":{"axis":{"x":"independent","y":"independent"}}},
{"title":"Romeo and Juliet","transform":[{"filter":"datum.b==2"}],"layer":[{"mark":{"type":"line","color":"black"},"encoding":{"x":{"field":"c","type":"quantitative","scale":{"padding":10.5,"nice":false,"zero":false},"axis":{"orient":"top","values":[5,15,25],"title":null}},"y":{"field":"o","type":"quantitative","scale":{"padding":6,"nice":false,"zero":false},"axis":{"orient":"right","values":[0.05,0.15,0.25,0.35,0.45],"title":null}}}},{"mark":{"type":"line","color":"red"},"encoding":{"x":{"field":"c","type":"quantitative","axis":{"orient":"bottom","values":[0,10,20],"format":"d","title":"chapter"}},"y":{"field":"f","type":"quantitative","axis":{"orient":"left","values":[0,0.1,0.2,0.3,0.4],"format":".1f","title":"proportion"}}}}],"resolve":{"axis":{"x":"independent","y":"independent"}}},
{"title":"Jane Eyre (1847)","transform":[{"filter":"datum.b==3"}],"layer":[{"mark":{"type":"line","color":"black"},"encoding":{"x":{"field":"c","type":"quantitative","scale":{"padding":10.5,"nice":false,"zero":false},"axis":{"orient":"top","values":[5,15,25,35],"title":null}},"y":{"field":"o","type":"quantitative","scale":{"padding":6,"nice":false,"zero":false},"axis":{"orient":"right","values":[0.05,0.15,0.25],"title":null}}}},{"mark":{"type":"line","color":"red"},"encoding":{"x":{"field":"c","type":"quantitative","axis":{"orient":"bottom","values":[0,10,20,30,40],"format":"d","title":"chapter"}},"y":{"field":"f","type":"quantitative","axis":{"orient":"left","values":[0,0.1,0.2,0.3],"format":".1f","title":"proportion"}}}}],"resolve":{"axis":{"x":"independent","y":"independent"}}},
{"title":"Wuthering Heights (184...","transform":[{"filter":"datum.b==4"}],"layer":[{"mark":{"type":"line","color":"black"},"encoding":{"x":{"field":"c","type":"quantitative","scale":{"padding":10.5,"nice":false,"zero":false},"axis":{"orient":"top","values":[5,15,25,35],"title":null}},"y":{"field":"o","type":"quantitative","scale":{"padding":6,"nice":false,"zero":false},"axis":{"orient":"right","values":[0.1,0.3,0.5],"title":null}}}},{"mark":{"type":"line","color":"red"},"encoding":{"x":{"field":"c","type":"quantitative","axis":{"orient":"bottom","values":[0,10,20,30],"format":"d","title":"chapter"}},"y":{"field":"f","type":"quantitative","axis":{"orient":"left","values":[0,0.2,0.4,0.6],"format":".1f","title":"proportion"}}}}],"resolve":{"axis":{"x":"independent","y":"independent"}}},
{"title":"Anna Karenina","transform":[{"filter":"datum.b==5"}],"layer":[{"mark":{"type":"line","color":"black"},"encoding":{"x":{"field":"c","type":"quantitative","scale":{"domain":[-10.9,250.9],"padding":0,"nice":false,"zero":false},"axis":{"orient":"top","values":[25,75,125,175,225],"title":null}},"y":{"field":"o","type":"quantitative","scale":{"padding":6,"nice":false,"zero":false},"axis":{"orient":"right","values":[0.05,0.15,0.25,0.35],"title":null}}}},{"mark":{"type":"line","color":"red"},"encoding":{"x":{"field":"c","type":"quantitative","axis":{"orient":"bottom","values":[0,50,100,150,200,250],"format":"d","title":"chapter","tickCount":8}},"y":{"field":"f","type":"quantitative","axis":{"orient":"left","values":[0,0.1,0.2,0.3,0.4],"format":".1f","title":"proportion"}}}}],"resolve":{"axis":{"x":"independent","y":"independent"}}},
{"title":"Alice's Adventures in ...","transform":[{"filter":"datum.b==6"}],"layer":[{"mark":{"type":"line","color":"black"},"encoding":{"x":{"field":"c","type":"quantitative","scale":{"padding":10.5,"nice":false,"zero":false},"axis":{"orient":"top","values":[1.25,3.75,6.25,8.75,11.25],"title":null}},"y":{"field":"o","type":"quantitative","scale":{"padding":6,"nice":false,"zero":false},"axis":{"orient":"right","values":[0.1,0.3,0.5,0.7],"title":null}}}},{"mark":{"type":"line","color":"red"},"encoding":{"x":{"field":"c","type":"quantitative","axis":{"orient":"bottom","values":[2.5,5,7.5,10,12.5],"format":".1f","title":"chapter"}},"y":{"field":"f","type":"quantitative","axis":{"orient":"left","values":[0,0.2,0.4,0.6],"format":".1f","title":"proportion"}}}}],"resolve":{"axis":{"x":"independent","y":"independent"}}},
{"title":"Great Expectations (18...","transform":[{"filter":"datum.b==7"}],"layer":[{"mark":{"type":"line","color":"black"},"encoding":{"x":{"field":"c","type":"quantitative","scale":{"padding":10.5,"nice":false,"zero":false},"axis":{"orient":"top","values":[10,30,50],"title":null}},"y":{"field":"o","type":"quantitative","scale":{"padding":6,"nice":false,"zero":false},"axis":{"orient":"right","values":[0.1,0.3,0.5],"title":null}}}},{"mark":{"type":"line","color":"red"},"encoding":{"x":{"field":"c","type":"quantitative","axis":{"orient":"bottom","values":[0,20,40,60],"format":"d","title":"chapter"}},"y":{"field":"f","type":"quantitative","axis":{"orient":"left","values":[0,0.2,0.4],"format":".1f","title":"proportion"}}}}],"resolve":{"axis":{"x":"independent","y":"independent"}}},
{"title":"Emma (1815)","transform":[{"filter":"datum.b==8"}],"layer":[{"mark":{"type":"line","color":"black"},"encoding":{"x":{"field":"c","type":"quantitative","scale":{"padding":10.5,"nice":false,"zero":false},"axis":{"orient":"top","values":[10,30,50],"title":null}},"y":{"field":"o","type":"quantitative","scale":{"padding":6,"nice":false,"zero":false},"axis":{"orient":"right","values":[0.1,0.3,0.5],"title":null}}}},{"mark":{"type":"line","color":"red"},"encoding":{"x":{"field":"c","type":"quantitative","axis":{"orient":"bottom","values":[0,20,40],"format":"d","title":"chapter"}},"y":{"field":"f","type":"quantitative","axis":{"orient":"left","values":[0,0.2,0.4,0.6],"format":".1f","title":"proportion"}}}}],"resolve":{"axis":{"x":"independent","y":"independent"}}},
{"title":"The Picture of Dorian ...","transform":[{"filter":"datum.b==9"}],"layer":[{"mark":{"type":"line","color":"black"},"encoding":{"x":{"field":"c","type":"quantitative","scale":{"padding":10.5,"nice":false,"zero":false},"axis":{"orient":"top","values":[2.5,7.5,12.5,17.5],"title":null}},"y":{"field":"o","type":"quantitative","scale":{"padding":6,"nice":false,"zero":false},"axis":{"orient":"right","values":[0.1,0.3,0.5],"title":null}}}},{"mark":{"type":"line","color":"red"},"encoding":{"x":{"field":"c","type":"quantitative","axis":{"orient":"bottom","values":[0,5,10,15,20],"format":"d","title":"chapter"}},"y":{"field":"f","type":"quantitative","axis":{"orient":"left","values":[0,0.2,0.4],"format":".1f","title":"proportion"}}}}],"resolve":{"axis":{"x":"independent","y":"independent"}}},
{"title":"Little Women (1880)","transform":[{"filter":"datum.b==10"}],"layer":[{"mark":{"type":"line","color":"black"},"encoding":{"x":{"field":"c","type":"quantitative","scale":{"padding":10.5,"nice":false,"zero":false},"axis":{"orient":"top","values":[5,15,25,35,45],"title":null}},"y":{"field":"o","type":"quantitative","scale":{"padding":6,"nice":false,"zero":false},"axis":{"orient":"right","values":[0.1,0.3,0.5],"title":null}}}},{"mark":{"type":"line","color":"red"},"encoding":{"x":{"field":"c","type":"quantitative","axis":{"orient":"bottom","values":[0,10,20,30,40],"format":"d","title":"chapter"}},"y":{"field":"f","type":"quantitative","axis":{"orient":"left","values":[0,0.2,0.4,0.6],"format":".1f","title":"proportion"}}}}],"resolve":{"axis":{"x":"independent","y":"independent"}}},
{"title":"Anne of Green Gables (...","transform":[{"filter":"datum.b==11"}],"layer":[{"mark":{"type":"line","color":"black"},"encoding":{"x":{"field":"c","type":"quantitative","scale":{"padding":10.5,"nice":false,"zero":false},"axis":{"orient":"top","values":[5,15,25,35],"title":null}},"y":{"field":"o","type":"quantitative","scale":{"padding":6,"nice":false,"zero":false},"axis":{"orient":"right","values":[0.05,0.15,0.25],"title":null}}}},{"mark":{"type":"line","color":"red"},"encoding":{"x":{"field":"c","type":"quantitative","axis":{"orient":"bottom","values":[0,10,20,30],"format":"d","title":"chapter"}},"y":{"field":"f","type":"quantitative","axis":{"orient":"left","values":[0,0.1,0.2],"format":".1f","title":"proportion"}}}}],"resolve":{"axis":{"x":"independent","y":"independent"}}},
{"title":"Sense and Sensibility ...","transform":[{"filter":"datum.b==12"}],"layer":[{"mark":{"type":"line","color":"black"},"encoding":{"x":{"field":"c","type":"quantitative","scale":{"padding":10.5,"nice":false,"zero":false},"axis":{"orient":"top","values":[5,15,25,35,45],"title":null}},"y":{"field":"o","type":"quantitative","scale":{"padding":6,"nice":false,"zero":false},"axis":{"orient":"right","values":[0.1,0.3,0.5],"title":null}}}},{"mark":{"type":"line","color":"red"},"encoding":{"x":{"field":"c","type":"quantitative","axis":{"orient":"bottom","values":[0,10,20,30,40,50],"format":"d","title":"chapter"}},"y":{"field":"f","type":"quantitative","axis":{"orient":"left","values":[0,0.2,0.4],"format":".1f","title":"proportion"}}}}],"resolve":{"axis":{"x":"independent","y":"independent"}}},
{"title":"The Adventures of Sher...","transform":[{"filter":"datum.b==13"}],"layer":[{"mark":{"type":"line","color":"black"},"encoding":{"x":{"field":"c","type":"quantitative","scale":{"padding":10.5,"nice":false,"zero":false},"axis":{"orient":"top","values":[1.25,3.75,6.25,8.75,11.25],"title":null}},"y":{"field":"o","type":"quantitative","scale":{"padding":6,"nice":false,"zero":false},"axis":{"orient":"right","values":[0.1,0.3,0.5],"title":null}}}},{"mark":{"type":"line","color":"red"},"encoding":{"x":{"field":"c","type":"quantitative","axis":{"orient":"bottom","values":[2.5,5,7.5,10,12.5],"format":".1f","title":"chapter"}},"y":{"field":"f","type":"quantitative","axis":{"orient":"left","values":[0,0.2,0.4,0.6],"format":".1f","title":"proportion"}}}}],"resolve":{"axis":{"x":"independent","y":"independent"}}},
{"title":"Dracula (1897)","transform":[{"filter":"datum.b==14"}],"layer":[{"mark":{"type":"line","color":"black"},"encoding":{"x":{"field":"c","type":"quantitative","scale":{"padding":10.5,"nice":false,"zero":false},"axis":{"orient":"top","values":[5,15,25],"title":null}},"y":{"field":"o","type":"quantitative","scale":{"padding":6,"nice":false,"zero":false},"axis":{"orient":"right","values":[0.05,0.15,0.25,0.35],"title":null}}}},{"mark":{"type":"line","color":"red"},"encoding":{"x":{"field":"c","type":"quantitative","axis":{"orient":"bottom","values":[0,10,20],"format":"d","title":"chapter"}},"y":{"field":"f","type":"quantitative","axis":{"orient":"left","values":[0,0.1,0.2,0.3,0.4],"format":".1f","title":"proportion"}}}}],"resolve":{"axis":{"x":"independent","y":"independent"}}},
{"title":"Black Beauty (1877)","transform":[{"filter":"datum.b==15"}],"layer":[{"mark":{"type":"line","color":"black"},"encoding":{"x":{"field":"c","type":"quantitative","scale":{"padding":10.5,"nice":false,"zero":false},"axis":{"orient":"top","values":[5,15,25,35,45],"title":null}},"y":{"field":"o","type":"quantitative","scale":{"padding":6,"nice":false,"zero":false},"axis":{"orient":"right","values":[0.05,0.15,0.25,0.35],"title":null}}}},{"mark":{"type":"line","color":"red"},"encoding":{"x":{"field":"c","type":"quantitative","axis":{"orient":"bottom","values":[0,10,20,30,40,50],"format":"d","title":"chapter"}},"y":{"field":"f","type":"quantitative","axis":{"orient":"left","values":[0,0.1,0.2,0.3,0.4],"format":".1f","title":"proportion"}}}}],"resolve":{"axis":{"x":"independent","y":"independent"}}},
{"title":"Oliver Twist (1837)","transform":[{"filter":"datum.b==16"}],"layer":[{"mark":{"type":"line","color":"black"},"encoding":{"x":{"field":"c","type":"quantitative","scale":{"padding":10.5,"nice":false,"zero":false},"axis":{"orient":"top","values":[5,15,25,35,45],"title":null}},"y":{"field":"o","type":"quantitative","scale":{"padding":6,"nice":false,"zero":false},"axis":{"orient":"right","values":[0.05,0.15,0.25,0.35],"title":null}}}},{"mark":{"type":"line","color":"red"},"encoding":{"x":{"field":"c","type":"quantitative","axis":{"orient":"bottom","values":[0,10,20,30,40,50],"format":"d","title":"chapter"}},"y":{"field":"f","type":"quantitative","axis":{"orient":"left","values":[0,0.1,0.2,0.3,0.4],"format":".1f","title":"proportion"}}}}],"resolve":{"axis":{"x":"independent","y":"independent"}}},
{"title":"A Tale of Two Cities (...","transform":[{"filter":"datum.b==17"}],"layer":[{"mark":{"type":"line","color":"black"},"encoding":{"x":{"field":"c","type":"quantitative","scale":{"padding":10.5,"nice":false,"zero":false},"axis":{"orient":"top","values":[5,15,25,35,45],"title":null}},"y":{"field":"o","type":"quantitative","scale":{"padding":6,"nice":false,"zero":false},"axis":{"orient":"right","values":[0.05,0.15,0.25,0.35,0.45],"title":null}}}},{"mark":{"type":"line","color":"red"},"encoding":{"x":{"field":"c","type":"quantitative","axis":{"orient":"bottom","values":[0,10,20,30,40],"format":"d","title":"chapter"}},"y":{"field":"f","type":"quantitative","axis":{"orient":"left","values":[0,0.1,0.2,0.3,0.4],"format":".1f","title":"proportion"}}}}],"resolve":{"axis":{"x":"independent","y":"independent"}}},
{"title":"The Little Prince","transform":[{"filter":"datum.b==18"}],"layer":[{"mark":{"type":"line","color":"black"},"encoding":{"x":{"field":"c","type":"quantitative","scale":{"padding":10.5,"nice":false,"zero":false},"axis":{"orient":"top","values":[5,15,25],"title":null}},"y":{"field":"o","type":"quantitative","scale":{"padding":6,"nice":false,"zero":false},"axis":{"orient":"right","values":[0.05,0.15,0.25],"title":null}}}},{"mark":{"type":"line","color":"red"},"encoding":{"x":{"field":"c","type":"quantitative","axis":{"orient":"bottom","values":[0,10,20,30],"format":"d","title":"chapter"}},"y":{"field":"f","type":"quantitative","axis":{"orient":"left","values":[0,0.1,0.2],"format":".1f","title":"proportion"}}}}],"resolve":{"axis":{"x":"independent","y":"independent"}}},
{"title":"Frankenstein (1818)","transform":[{"filter":"datum.b==19"}],"layer":[{"mark":{"type":"line","color":"black"},"encoding":{"x":{"field":"c","type":"quantitative","scale":{"padding":10.5,"nice":false,"zero":false},"axis":{"orient":"top","values":[5,15,25],"title":null}},"y":{"field":"o","type":"quantitative","scale":{"padding":6,"nice":false,"zero":false},"axis":{"orient":"right","values":[0.05,0.15,0.25,0.35],"title":null}}}},{"mark":{"type":"line","color":"red"},"encoding":{"x":{"field":"c","type":"quantitative","axis":{"orient":"bottom","values":[0,10,20],"format":"d","title":"chapter"}},"y":{"field":"f","type":"quantitative","axis":{"orient":"left","values":[0,0.1,0.2,0.3],"format":".1f","title":"proportion"}}}}],"resolve":{"axis":{"x":"independent","y":"independent"}}},
{"title":"The Count of Monte Cri...","transform":[{"filter":"datum.b==20"}],"layer":[{"mark":{"type":"line","color":"black"},"encoding":{"x":{"field":"c","type":"quantitative","scale":{"padding":10.5,"nice":false,"zero":false},"axis":{"orient":"top","values":[15,45,75,105],"title":null}},"y":{"field":"o","type":"quantitative","scale":{"padding":6,"nice":false,"zero":false},"axis":{"orient":"right","values":[0.025,0.075,0.125,0.175],"title":null}}}},{"mark":{"type":"line","color":"red"},"encoding":{"x":{"field":"c","type":"quantitative","axis":{"orient":"bottom","values":[0,30,60,90,120],"format":"d","title":"chapter"}},"y":{"field":"f","type":"quantitative","axis":{"orient":"left","values":[0,0.05,0.1,0.15,0.2],"format":".2f","title":"proportion"}}}}],"resolve":{"axis":{"x":"independent","y":"independent"}}}
],
"config": {
"font": "Liberation Sans",
"view": {"continuousWidth": 230, "continuousHeight": 131, "fill": "#EBEBEB", "stroke": null},
"title": {"anchor": "start", "frame": "group", "fontSize": 16, "fontWeight": "normal", "color": "#000000", "offset": 5, "dx": 8},
"axis": {"domain": false, "grid": true, "gridColor": "#FFFFFF", "gridWidth": 1.2, "tickColor": "#333333", "tickSize": 3.5, "tickWidth": 1, "labelColor": "#4D4D4D", "labelFontSize": 10.7, "labelPadding": 2, "labelFlush": false, "labelOverlap": false, "titleFontSize": 13.3, "titleFontWeight": "normal", "titleColor": "#000000", "titlePadding": 3},
"axisTop": {"labels": false, "ticks": false, "gridWidth": 0.6},
"axisRight": {"labels": false, "ticks": false, "gridWidth": 0.6},
"line": {"strokeWidth": 1.35}
}
}
